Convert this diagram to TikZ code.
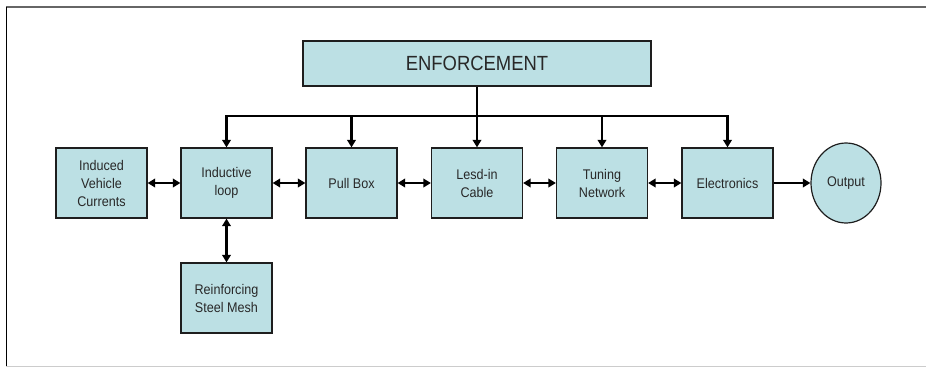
\documentclass[tikz,border=0pt]{standalone}
\usepackage{fontspec}
\setmainfont[FakeStretch=0.9]{Liberation Sans}
\usetikzlibrary{arrows.meta,shapes.geometric}
\definecolor{boxfill}{RGB}{188,224,228}
\definecolor{boxline}{RGB}{30,30,30}
\definecolor{txt}{RGB}{40,40,40}
\tikzset{
  block/.style={draw=boxline, line width=1.2pt, fill=boxfill, rectangle,
    minimum width=91pt, minimum height=70pt, align=center, inner sep=2pt,
    text=txt, font=\fontsize{14}{18}\selectfont},
  topbox/.style={block, minimum width=348pt, minimum height=45pt,
    font=\fontsize{20.5}{24}\selectfont},
  outnode/.style={draw=boxline, line width=1.2pt, fill=boxfill, ellipse,
    minimum width=70pt, minimum height=80pt, inner sep=0pt,
    text=txt, font=\fontsize{14}{18}\selectfont},
  link/.style={line width=2.4pt, black},
  both/.style={link, {Triangle[length=7.5pt,width=8.5pt]}-{Triangle[length=7.5pt,width=8.5pt]}},
  one/.style={link, -{Triangle[length=7.5pt,width=8.5pt]}},
}
\begin{document}
\begin{tikzpicture}[x=1pt,y=-1pt]
  \useasboundingbox (0,0) rectangle (926,367);
  % page frame
  \draw[line width=1.8pt, gray!80!black] (6,7) -- (926,7);
  \draw[line width=1pt, black] (6,7) -- (6,366);
  \draw[line width=1pt, gray!40] (6,366) -- (926,366);

  % blocks
  \node[topbox] (enf) at (477,63.5) {ENFORCEMENT};
  \node[block] (ivc) at (101.5,183) {Induced\\Vehicle\\Currents};
  \node[block] (loop) at (226.5,183) {Inductive\\loop};
  \node[block] (pull) at (351.5,183) {Pull Box};
  \node[block] (cable) at (477,183) {Lesd-in\\Cable};
  \node[block] (tune) at (602,183) {Tuning\\Network};
  \node[block] (elec) at (727.5,183) {Electronics};
  \node[outnode] (out) at (846,183) {Output};
  \node[block] (mesh) at (226.5,298) {Reinforcing\\Steel Mesh};

  % distribution bar below ENFORCEMENT
  \coordinate (bus) at (477,116);
  \coordinate (busL) at (226.5,116);
  \coordinate (busR) at (727.5,116);
  \draw[link] (enf.south) -- (bus);
  \draw[link, line cap=rect] (busL) -- (busR);
  \foreach \t in {loop,pull,cable,tune,elec}
    \draw[one] (\t.north |- bus) -- (\t.north);

  % chain of blocks
  \draw[both] (ivc.east) -- (loop.west);
  \draw[both] (loop.east) -- (pull.west);
  \draw[both] (pull.east) -- (cable.west);
  \draw[both] (cable.east) -- (tune.west);
  \draw[both] (tune.east) -- (elec.west);
  \draw[one] (elec.east) -- (out.west);
  \draw[both] (loop.south) -- (mesh.north);
\end{tikzpicture}
\end{document}
